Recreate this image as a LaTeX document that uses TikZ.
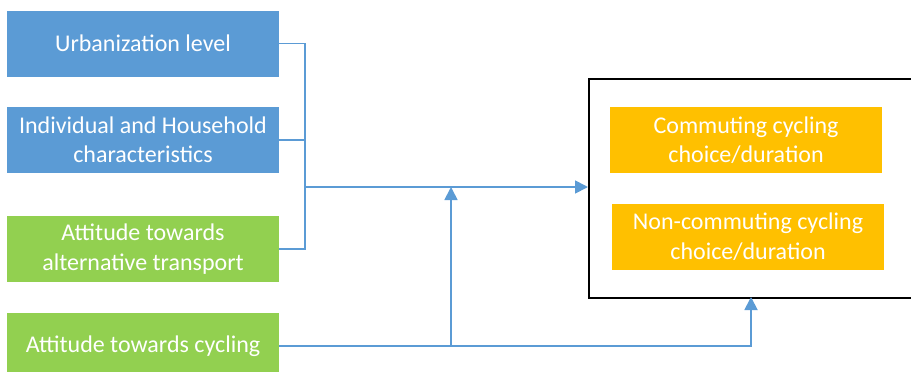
\documentclass[tikz,border=0pt]{standalone}
\usepackage{fontspec}
\setmainfont{Carlito}
\usepackage{tikz}
\definecolor{factorblue}{RGB}{91,155,213}
\definecolor{factorgreen}{RGB}{146,208,80}
\definecolor{outcomeorange}{RGB}{255,192,0}
\usetikzlibrary{
  arrows.meta,
  calc,
  positioning,
}
\tikzset{
  >={Triangle[length=13pt, width=13pt]},
}

\begin{document}
\begin{tikzpicture}[x=1pt, y=-1pt,
                    factor/.style={minimum width=272pt, minimum height=66pt, inner sep=0pt,
                                   text=white, align=center, font=\fontsize{24}{29.5}\selectfont},
                    link/.style={draw=factorblue, line width=1.8pt}]
      \useasboundingbox (0,0) rectangle (911,372);
      \node [factor, fill=factorblue] (urban) at (143,43.5) {Urbanization level};
      \node [factor, fill=factorblue] (house) at (143,140) {Individual and Household\\characteristics};
      \node [factor, fill=factorgreen] (alter) at (143,249) {Attitude towards\\alternative transport};
      \node [factor, fill=factorgreen] (cycling) at (143,346) {Attitude towards cycling};
      \node [draw, line width=1.5pt, minimum width=332pt, minimum height=219pt, inner sep=0pt,
             anchor=north west] (result) at (588,78) {};
      \node [factor, fill=outcomeorange] (commute) at (746,140) {Commuting cycling\\choice/duration};
      \node [factor, fill=outcomeorange] (leisure) at (748,236.5) {Non-commuting cycling\\choice/duration};
      \coordinate (join) at (305,187);
      \coordinate (moderate) at (451,187);
      \coordinate (direct) at (751,297);
      \draw [link] (urban.east) -| (alter.east -| join) -- (alter.east);
      \draw [link] (house.east) -- (house.east -| join);
      \draw [link, ->] (join) -- (join -| result.west);
      \draw [link, ->] (cycling.east -| moderate) -- (moderate);
      \draw [link, ->] (cycling.east) -| (direct);
    \end{tikzpicture}
\end{document}
